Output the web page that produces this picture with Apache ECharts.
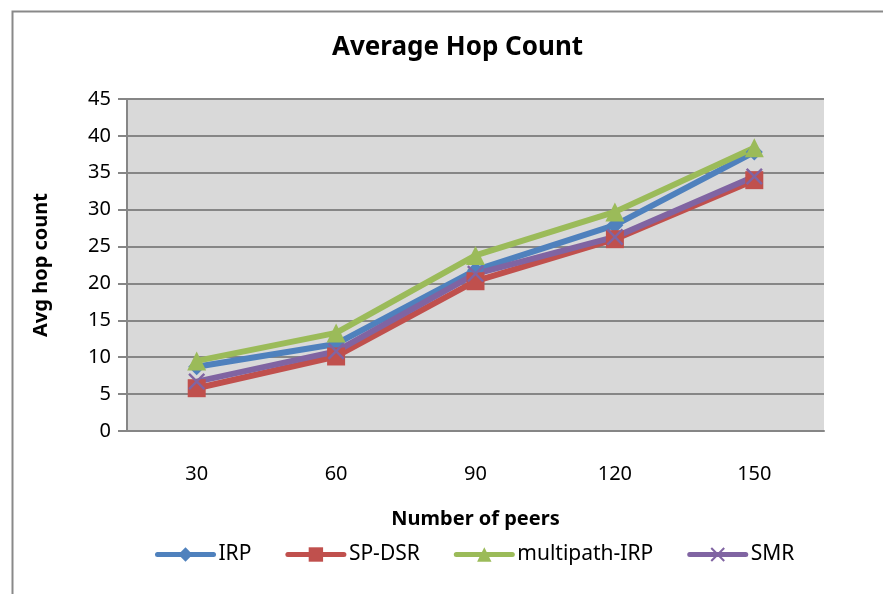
<!DOCTYPE html>
<html>
<head>
<meta charset="utf-8">
<script src="https://cdn.jsdelivr.net/npm/echarts@6/dist/echarts.min.js"></script>
<style>
  html, body { margin: 0; padding: 0; background: #fff; }
  #chart { width: 883px; height: 594px; }
</style>
</head>
<body>
<div id="chart"></div>
<script>
const peers = ["30", "60", "90", "120", "150"];
const irp = [8.7, 11.8, 21.8, 27.9, 37.8];
const spDsr = [5.8, 10.1, 20.3, 26.0, 34.0];
const multipathIrp = [9.5, 13.3, 23.8, 29.7, 38.4];
const smr = [6.7, 10.8, 21.3, 26.3, 34.5];

const fontFamily = "'Noto Sans', 'Open Sans', sans-serif";
const gridColor = "#868686";
const crossSymbol = "path://M0,1L1,0L5,4L9,0L10,1L6,5L10,9L9,10L5,6L1,10L0,9L4,5Z";

function makeSeries(name, data, color, symbol, size) {
    return {
        name: name,
        type: "line",
        data: data,
        symbol: symbol,
        symbolSize: size,
        showAllSymbol: true,
        lineStyle: { color: color, width: 6, cap: "round" },
        itemStyle: { color: color, borderWidth: 0 },
        animation: false
    };
}

const chart = echarts.init(document.getElementById("chart"));

chart.setOption({
    backgroundColor: "#fff",
    textStyle: { fontFamily: fontFamily },
    title: {
        text: "Average Hop Count",
        left: 327,
        top: 30,
        textStyle: { fontSize: 26, fontWeight: "bold", color: "#000", fontFamily: fontFamily }
    },
    graphic: [{
        type: "rect",
        left: 10,
        top: 9,
        shape: { width: 900, height: 620 },
        style: { fill: "none", stroke: "#898989", lineWidth: 2 },
        silent: true
    }],
    grid: {
        left: 127,
        right: 59,
        top: 99,
        bottom: 163,
        show: true,
        backgroundColor: "#D9D9D9",
        borderWidth: 0
    },
    legend: {
        bottom: 24,
        left: 150,
        itemWidth: 56,
        itemHeight: 18,
        itemGap: 34,
        lineStyle: { width: 5, cap: "round" },
        textStyle: { fontSize: 21, color: "#000", fontFamily: fontFamily },
        data: ["IRP", "SP-DSR", "multipath-IRP", "SMR"]
    },
    xAxis: {
        type: "category",
        data: peers,
        boundaryGap: true,
        name: "Number of peers",
        nameLocation: "middle",
        nameGap: 78,
        nameTextStyle: { fontSize: 20, fontWeight: "bold", color: "#000" },
        axisLine: { show: true, lineStyle: { color: gridColor, width: 2 } },
        axisTick: { show: false },
        axisLabel: { fontSize: 20, color: "#000", margin: 33 },
        splitLine: { show: false }
    },
    yAxis: {
        type: "value",
        min: 0,
        max: 45,
        interval: 5,
        name: "Avg hop count",
        nameLocation: "middle",
        nameRotate: 90,
        nameGap: 76,
        nameTextStyle: { fontSize: 20, fontWeight: "bold", color: "#000" },
        axisLine: { show: true, lineStyle: { color: gridColor, width: 2 } },
        axisTick: { show: true, length: 9, lineStyle: { color: gridColor, width: 2 } },
        axisLabel: { fontSize: 20, color: "#000", margin: 16 },
        splitLine: { show: true, lineStyle: { color: gridColor, width: 2 } }
    },
    series: [
        makeSeries("IRP", irp, "#4F81BD", "diamond", 17),
        makeSeries("SP-DSR", spDsr, "#C0504D", "rect", 18),
        makeSeries("multipath-IRP", multipathIrp, "#9BBB59", "triangle", 19),
        makeSeries("SMR", smr, "#8064A2", crossSymbol, 17)
    ]
});
</script>
</body>
</html>
